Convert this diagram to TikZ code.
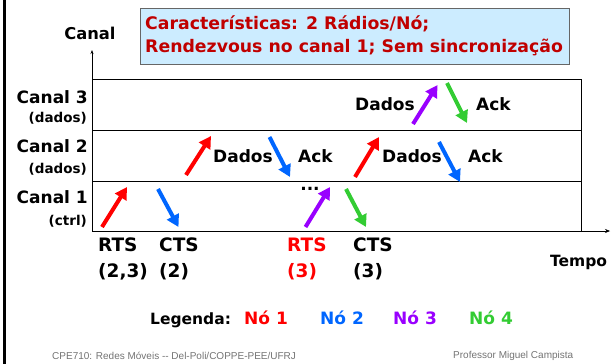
\documentclass[tikz,border=0pt]{standalone}
\usepackage{fontspec}
\setmainfont{DejaVu Sans}
\newfontfamily\footfont{Liberation Sans}
\usetikzlibrary{arrows.meta}
\definecolor{nred}{RGB}{255,0,0}
\definecolor{nblue}{RGB}{0,102,255}
\definecolor{npurple}{RGB}{153,0,255}
\definecolor{ngreen}{RGB}{51,204,51}
\definecolor{tred}{RGB}{192,0,0}
\definecolor{boxblue}{RGB}{204,236,255}
\begin{document}
\begin{tikzpicture}[x=1pt,y=-1pt,
  lab/.style={font=\bfseries\fontsize{17}{17}\selectfont, inner sep=0pt, text height=12pt, text depth=3.5pt},
  ttl/.style={font=\bfseries\fontsize{17.3}{17.3}\selectfont, inner sep=0pt, text height=12pt, text depth=3.5pt, text=tred},
  big/.style={font=\bfseries\fontsize{18.5}{18.5}\selectfont, inner sep=0pt, text height=13pt, text depth=4pt},
  leg/.style={font=\bfseries\fontsize{15.5}{15.5}\selectfont, inner sep=0pt, text height=11pt, text depth=3pt},
  sub/.style={font=\bfseries\fontsize{13.5}{13.5}\selectfont, inner sep=0pt, text height=10pt, text depth=3pt},
  msg/.style={line width=4pt, -{Triangle[length=12pt,width=13pt]}},
  foot/.style={font=\footfont\fontsize{10}{10}\selectfont, text=black!55, inner sep=0pt, anchor=west}
]
\useasboundingbox (0,0) rectangle (613,364);
% left bar
\fill[black] (2.5,0) rectangle (5.5,364);
% title box
\node[draw=black!60, fill=boxblue, minimum width=429pt, minimum height=56pt, anchor=north west, inner sep=0pt] (title) at (140,8) {};
\node[ttl, anchor=west] (t1) at (145,25) {Características: 2 Rádios/Nó;};
\node[ttl, anchor=west] (t2) at (145,48) {Rendezvous no canal 1; Sem sincronização};
% axes
\coordinate (o) at (92,231);
\coordinate (ytop) at (92,50);
\coordinate (xend) at (610,231);
\draw[-{Stealth[length=4pt,width=3pt]}, line width=0.6pt] (o) -- (ytop);
\draw[-{Stealth[length=5pt,width=4pt]}, line width=0.6pt] (o) -- (xend);
\draw[line width=0.8pt] (92,79) rectangle (581,231);
\draw[line width=0.8pt] (92,130) -- (581,130);
\draw[line width=0.8pt] (92,181) -- (581,181);
% axis labels
\node[leg, font=\bfseries\fontsize{16.3}{16.3}\selectfont] (canal) at (90,35) {Canal};
\node[lab, anchor=east] (c3) at (88,99) {Canal 3};
\node[sub, anchor=east] (c3s) at (87,119) {(dados)};
\node[lab, anchor=east] (c2) at (88,148) {Canal 2};
\node[sub, anchor=east] (c2s) at (87,170) {(dados)};
\node[lab, anchor=east] (c1) at (88,199) {Canal 1};
\node[sub, anchor=east] (c1s) at (87,222) {(ctrl)};
\node[leg, anchor=west] (tempo) at (550,262) {Tempo};
% messages
\coordinate (a1s) at (102,227); \coordinate (a1e) at (127,187);
\coordinate (a2s) at (158,189); \coordinate (a2e) at (178.5,227);
\coordinate (a3s) at (186,175); \coordinate (a3e) at (211,136);
\coordinate (a4s) at (269.5,137); \coordinate (a4e) at (290,177);
\coordinate (a5s) at (305.5,227); \coordinate (a5e) at (330,187);
\coordinate (a6s) at (346,189); \coordinate (a6e) at (366,227);
\coordinate (a7s) at (355,177); \coordinate (a7e) at (379,137);
\coordinate (a8s) at (439,142); \coordinate (a8e) at (460,182);
\coordinate (a9s) at (413,124); \coordinate (a9e) at (437.5,85);
\coordinate (a10s) at (447,83); \coordinate (a10e) at (467,123);
\draw[msg, nred] (a1s) -- (a1e);
\draw[msg, nblue] (a2s) -- (a2e);
\draw[msg, nred] (a3s) -- (a3e);
\draw[msg, nblue] (a4s) -- (a4e);
\draw[msg, npurple] (a5s) -- (a5e);
\draw[msg, ngreen] (a6s) -- (a6e);
\draw[msg, nred] (a7s) -- (a7e);
\draw[msg, nblue] (a8s) -- (a8e);
\draw[msg, npurple] (a9s) -- (a9e);
\draw[msg, ngreen] (a10s) -- (a10e);
% message labels
\node[lab, anchor=west] (d1) at (213,158) {Dados};
\node[lab, anchor=west] (k1) at (298,158) {Ack};
\node[lab, anchor=west] (d2) at (382,158) {Dados};
\node[lab, anchor=west] (k2) at (468,158) {Ack};
\node[lab, anchor=west] (d3) at (355,106) {Dados};
\node[lab, anchor=west] (k3) at (476,106) {Ack};
\node[lab] (dots) at (310,186) {...};
% bottom labels
\node[big, anchor=west] (r1) at (98,247) {RTS};
\node[big, anchor=west] (r1b) at (98,273) {(2,3)};
\node[big, anchor=west] (s1) at (159,247) {CTS};
\node[big, anchor=west] (s1b) at (159,273) {(2)};
\node[big, anchor=west, text=nred] (r2) at (287,247) {RTS};
\node[big, anchor=west, text=nred] (r2b) at (287,273) {(3)};
\node[big, anchor=west] (s2) at (353,247) {CTS};
\node[big, anchor=west] (s2b) at (353,273) {(3)};
% legend
\node[leg, anchor=west] (leg) at (150,320) {Legenda:};
\node[lab, anchor=west, text=nred] (n1) at (244,320) {Nó 1};
\node[lab, anchor=west, text=nblue] (n2) at (320,320) {Nó 2};
\node[lab, anchor=west, text=npurple] (n3) at (393,320) {Nó 3};
\node[lab, anchor=west, text=ngreen] (n4) at (469,320) {Nó 4};
% footer
\node[foot] (f1) at (52,356) {CPE710: Redes Móveis -- Del-Poli/COPPE-PEE/UFRJ};
\node[foot] (f2) at (453,356) {Professor Miguel Campista};
\end{tikzpicture}
\end{document}
